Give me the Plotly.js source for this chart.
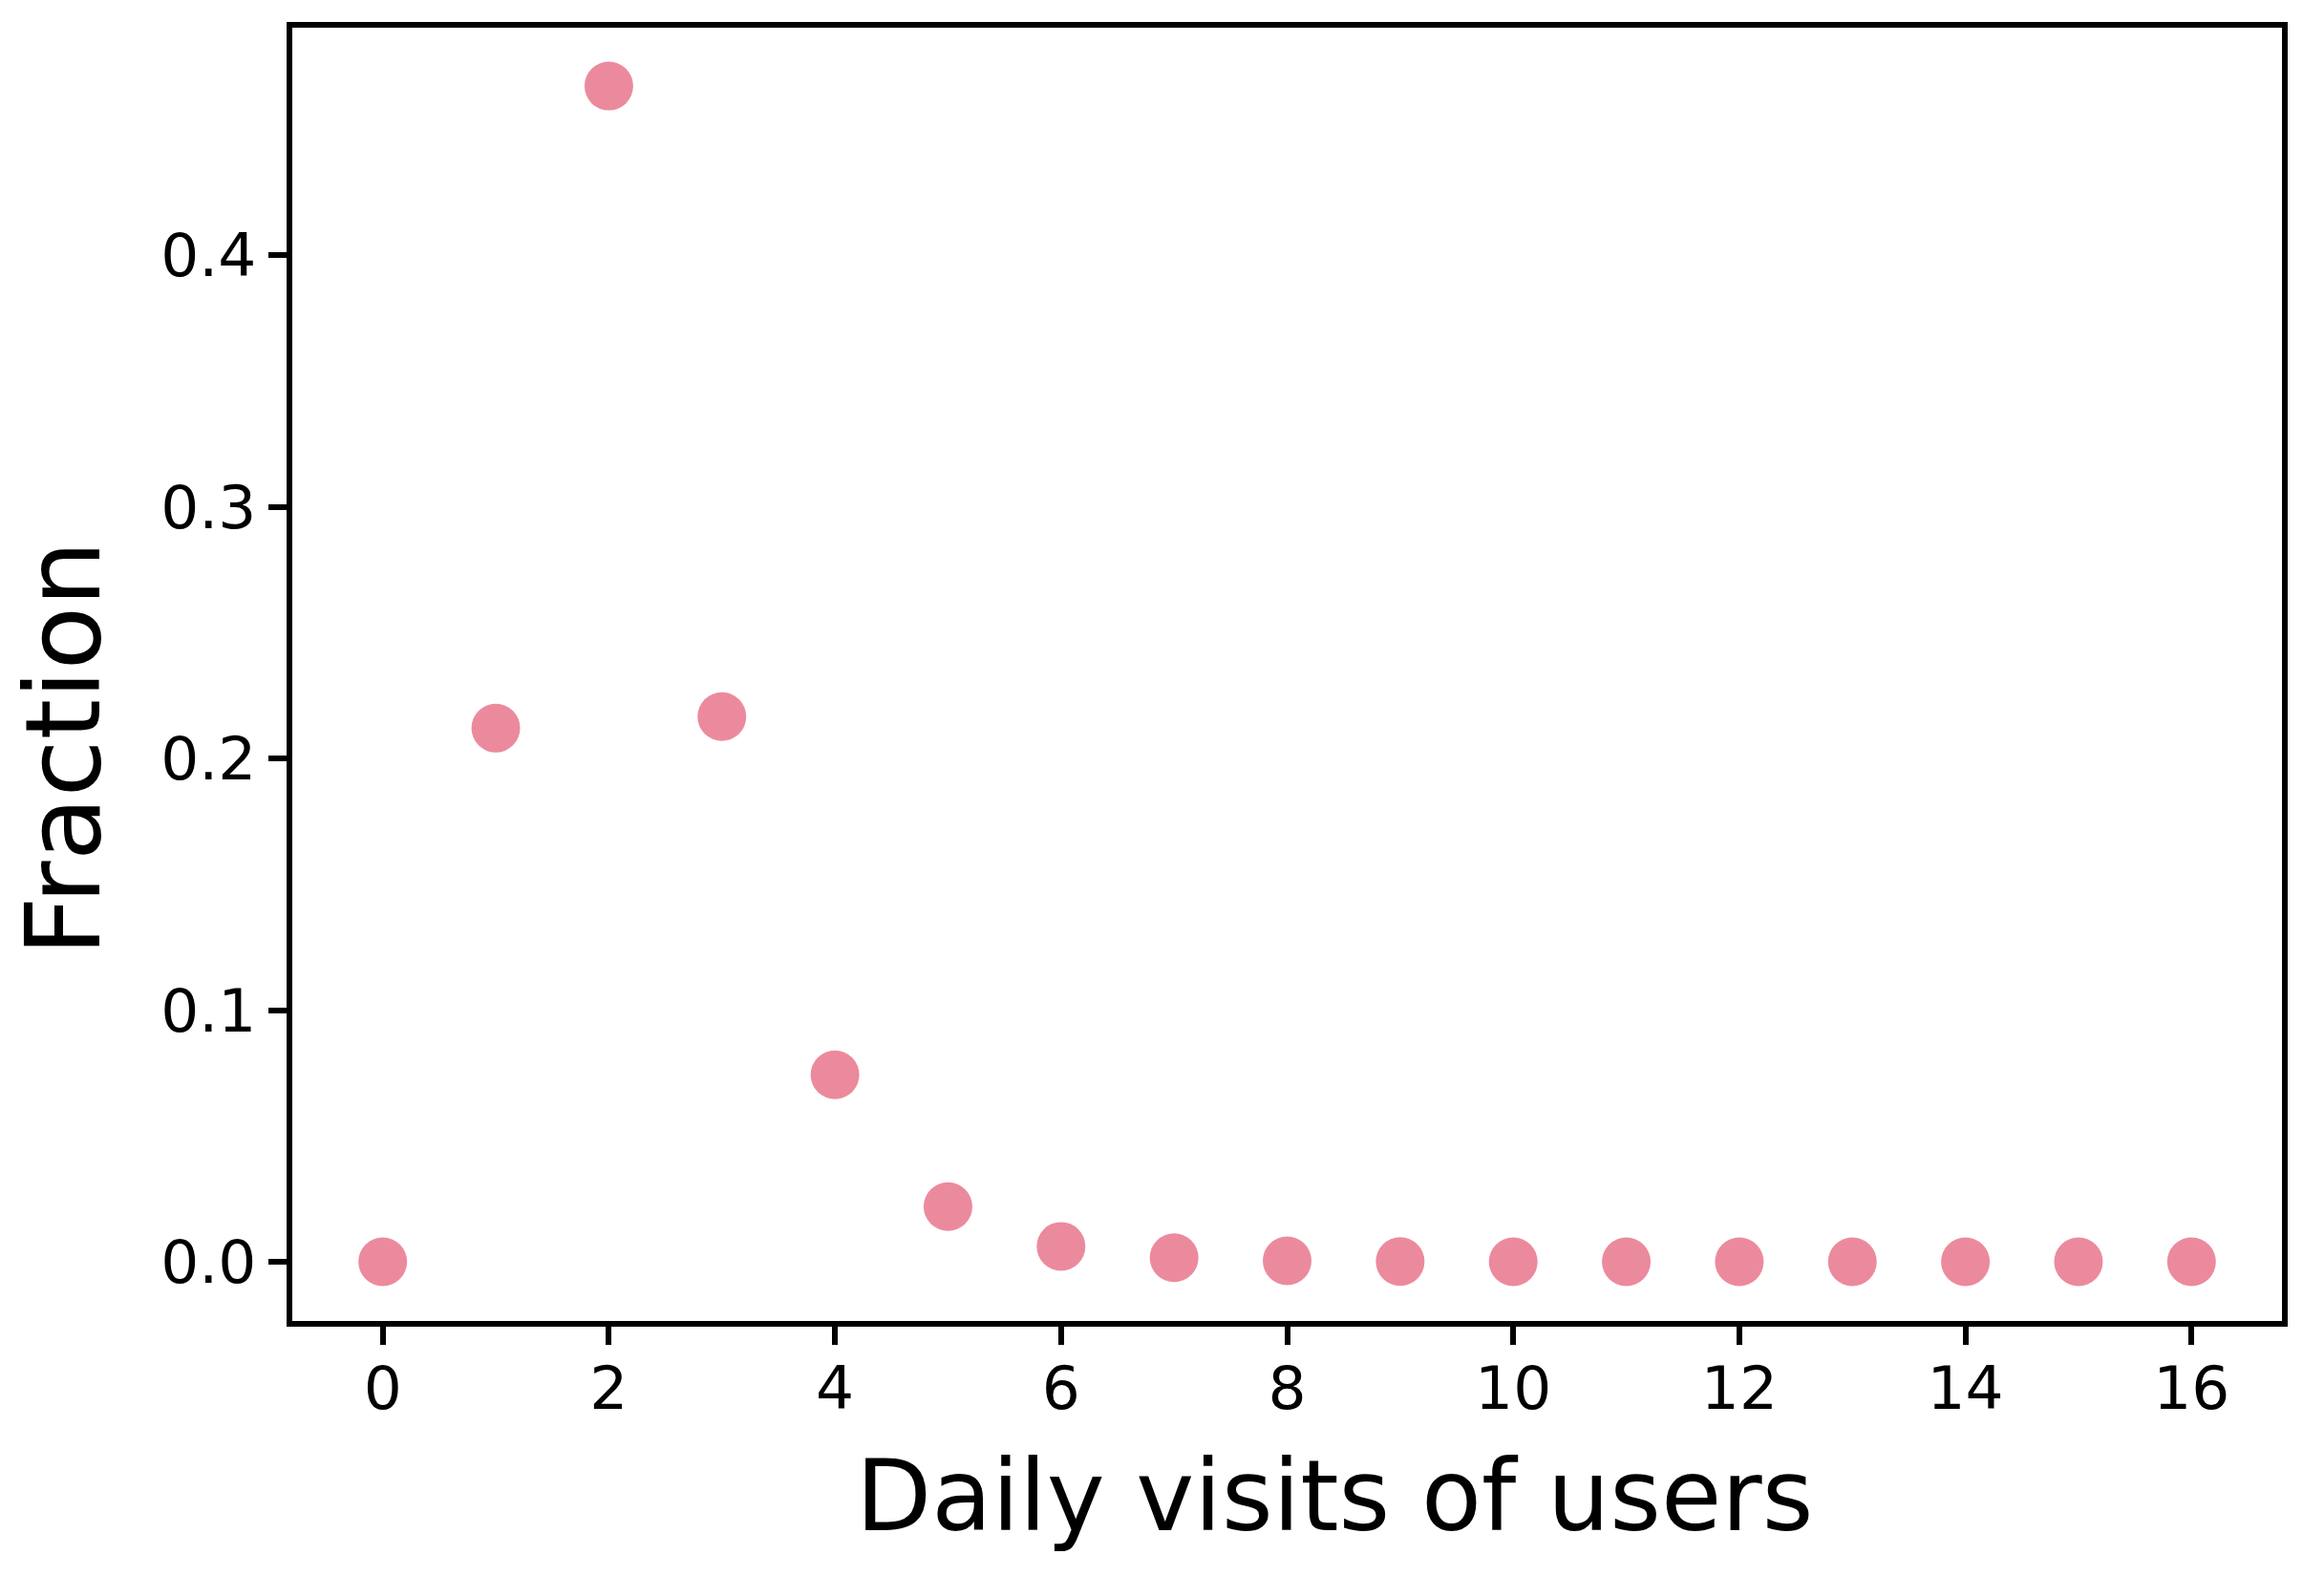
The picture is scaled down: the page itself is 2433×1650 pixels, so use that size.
<!DOCTYPE html>
<html>
<head>
<meta charset="utf-8">
<script src="https://cdn.plot.ly/plotly-3.0.1.min.js"></script>
<style>
  html, body { margin: 0; padding: 0; background: #ffffff; }
  #chart { width: 2433px; height: 1650px; }
</style>
</head>
<body>
<div id="chart"></div>
<script>
// Data
const dailyVisits = [0, 1, 2, 3, 4, 5, 6, 7, 8, 9, 10, 11, 12, 13, 14, 15, 16];
const fraction = [0.0, 0.2121, 0.4673, 0.2167, 0.0743, 0.0219, 0.0061, 0.0016, 0.0004, 0.0001, 0.0, 0.0, 0.0, 0.0, 0.0, 0.0, 0.0];
const xTickVals = [0, 2, 4, 6, 8, 10, 12, 14, 16];
const yTickVals = [0.0, 0.1, 0.2, 0.3, 0.4];
const xTitle = "Daily visits of users";
const yTitle = "Fraction";

const FONT = "DejaVu Sans";

const trace = {
  x: dailyVisits,
  y: fraction,
  type: "scatter",
  mode: "markers",
  marker: { size: 51, color: "rgb(236,138,157)", line: { width: 0 } },
  hoverinfo: "skip",
  cliponaxis: false
};

const layout = {
  width: 2433,
  height: 1650,
  paper_bgcolor: "#ffffff",
  plot_bgcolor: "#ffffff",
  showlegend: false,
  margin: { l: 306, r: 44, t: 29, b: 267, pad: 0 },
  font: { family: FONT, color: "#000000" },
  xaxis: {
    range: [-0.8, 16.8],
    tickmode: "array",
    tickvals: xTickVals,
    ticktext: xTickVals.map(String),
    ticks: "outside",
    ticklen: 19,
    tickwidth: 6,
    tickcolor: "#000000",
    ticklabelstandoff: -9,
    showline: true,
    linewidth: 6,
    linecolor: "#000000",
    mirror: true,
    showgrid: false,
    zeroline: false,
    tickfont: { family: FONT, size: 63, color: "#000000" },
    automargin: false
  },
  yaxis: {
    range: [-0.02354, 0.4905],
    tickmode: "array",
    tickvals: yTickVals,
    ticktext: yTickVals.map(v => v.toFixed(1)),
    ticks: "outside",
    ticklen: 19,
    tickwidth: 6,
    tickcolor: "#000000",
    showline: true,
    linewidth: 6,
    linecolor: "#000000",
    mirror: true,
    showgrid: false,
    zeroline: false,
    tickfont: { family: FONT, size: 63, color: "#000000" },
    automargin: false
  },
  annotations: [
    {
      text: xTitle,
      xref: "paper", yref: "paper",
      x: 0.524, y: -0.1348,
      xanchor: "center", yanchor: "middle",
      showarrow: false,
      font: { family: FONT, size: 103, color: "#000000" }
    },
    {
      text: yTitle,
      xref: "paper", yref: "paper",
      x: -0.115, y: 0.4428,
      xanchor: "center", yanchor: "middle",
      textangle: -90,
      showarrow: false,
      font: { family: FONT, size: 109, color: "#000000" }
    }
  ]
};

Plotly.newPlot("chart", [trace], layout, { displayModeBar: false, staticPlot: true });
</script>
</body>
</html>
